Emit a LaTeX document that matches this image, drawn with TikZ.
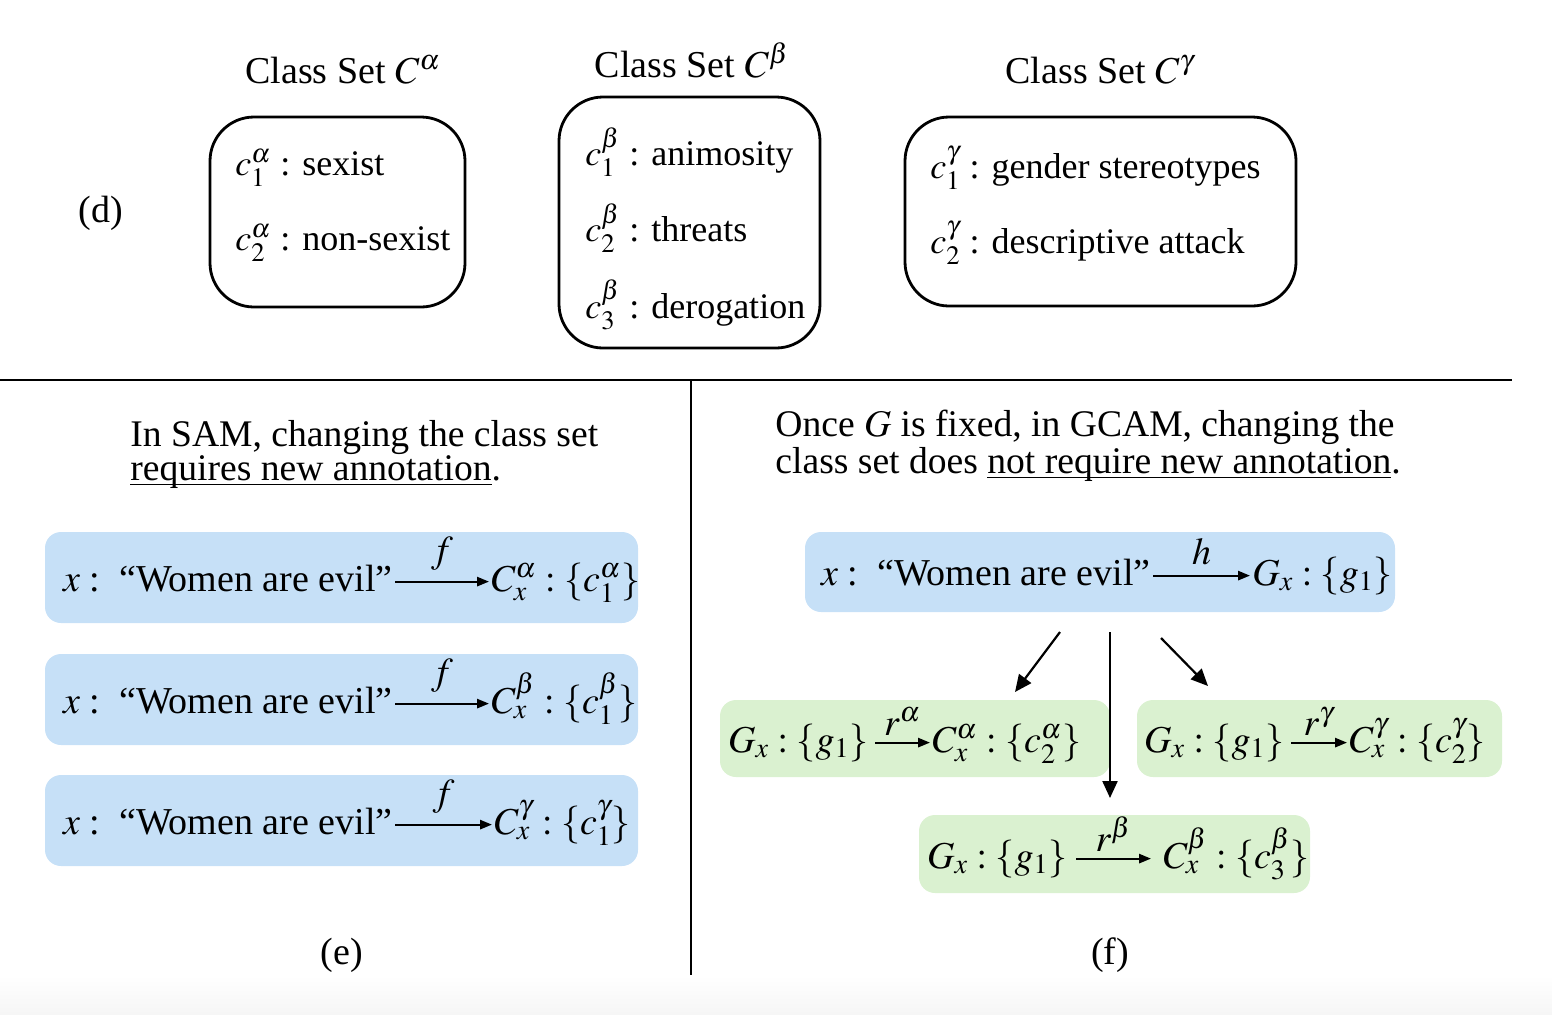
\documentclass[tikz,border=0pt]{standalone}
\usepackage{amsmath}
\usepackage{mathptmx}
\usepackage[no-math]{fontspec}
\setmainfont{Liberation Serif}
\newfontfamily\tnr[Ligatures=TeX]{Liberation Serif}
\usetikzlibrary{arrows.meta}
\definecolor{boxblue}{HTML}{C6E0F7}
\definecolor{boxgreen}{HTML}{DAF1D0}
\definecolor{bandgray}{HTML}{F6F6F6}
\newcommand\fs{\tnr\fontsize{19}{17}\selectfont}
\newcommand\fsb{\tnr\fontsize{18}{17}\selectfont}
\newcommand\fsh{\tnr\fontsize{18.8}{17}\selectfont}
\newcommand\myul[1]{\setbox0\hbox{#1}\rlap{\rule[-2.6pt]{\wd0}{0.8pt}}\box0}
\begin{document}
\begin{tikzpicture}[x=0.5pt,y=-0.5pt,
  lbl/.style={font=\fs, inner sep=0pt},
  blbl/.style={font=\fsb, inner sep=0pt, anchor=west},
  hlbl/.style={font=\fsh, inner sep=0pt, anchor=base west, align=left},
  classbox/.style={draw, line width=1.4pt, rounded corners=22pt, inner sep=0pt},
  bluebox/.style={fill=boxblue, rounded corners=8pt, inner sep=0pt},
  greenbox/.style={fill=boxgreen, rounded corners=8pt, inner sep=0pt},
  inarr/.style={line width=1.1pt, -{Triangle[length=6pt,width=4.6pt]}},
  conn/.style={line width=1.1pt, -{Triangle[length=8.5pt,width=7.5pt]}}]

\useasboundingbox (0,0) rectangle (1552,1014);
\shade[top color=white, bottom color=bandgray] (0,975) rectangle (1552,1014);

% ---- (d) class sets
\node[lbl] (d) at (101,213) {(d)};
\node[lbl] (ta) at (343,70) {Class Set $C^{\alpha}$};
\node[lbl] (tb) at (692,60) {Class Set $C^{\beta}$};
\node[lbl] (tg) at (1100,70) {Class Set $C^{\gamma}$};

\node[classbox, minimum width=127.5pt, minimum height=95pt] (boxa) at (337.5,212) {};
\node[classbox, minimum width=130.5pt, minimum height=125.5pt] (boxb) at (689.5,222.5) {};
\node[classbox, minimum width=195.5pt, minimum height=94.5pt] (boxg) at (1100.5,211.5) {};

\node[blbl] (a1) at (235,168) {$c^{\alpha}_{1}$ : sexist};
\node[blbl] (a2) at (235,243) {$c^{\alpha}_{2}$ : non-sexist};
\node[blbl] (b1) at (585,152) {$c^{\beta}_{1}$ : animosity};
\node[blbl] (b2) at (585,228) {$c^{\beta}_{2}$ : threats};
\node[blbl] (b3) at (585,305) {$c^{\beta}_{3}$ : derogation};
\node[blbl] (g1) at (930,168) {$c^{\gamma}_{1}$ : gender stereotypes};
\node[blbl] (g2) at (930,243) {$c^{\gamma}_{2}$ : descriptive attack};

% ---- separators
\draw[line width=1.2pt] (0,380) -- (1512,380);
\draw[line width=1pt] (691,380) -- (691,975);

% ---- (e) SAM
\node[hlbl] (sam) at (130,480)
  {In SAM, changing the class set\\ \myul{requires new annotation}.};

\node[bluebox, minimum width=296.5pt, minimum height=45.5pt] (e1) at (341.5,577.5) {};
\node[bluebox, minimum width=296.5pt, minimum height=45.5pt] (e2) at (341.5,699.5) {};
\node[bluebox, minimum width=296.5pt, minimum height=45.5pt] (e3) at (341.5,820.5) {};

\node[lbl, anchor=base east] (e1l) at (393,591) {$x$ :\ \ “Women are evil”};
\node[lbl, anchor=base west] (e1r) at (491,591) {$C^{\alpha}_{x}:\{c^{\alpha}_{1}\}$};
\draw[inarr] ([xshift=1pt,yshift=4.7pt]e1l.base east) -- node[lbl, above=5pt] (e1f) {$f$} ([xshift=-1pt,yshift=4.7pt]e1r.base west);

\node[lbl, anchor=base east] (e2l) at (393,713) {$x$ :\ \ “Women are evil”};
\node[lbl, anchor=base west] (e2r) at (491,713) {$C^{\beta}_{x}:\{c^{\beta}_{1}\}$};
\draw[inarr] ([xshift=1pt,yshift=4.7pt]e2l.base east) -- node[lbl, above=5pt] (e2f) {$f$} ([xshift=-1pt,yshift=4.7pt]e2r.base west);

\node[lbl, anchor=base east] (e3l) at (393,834) {$x$ :\ \ “Women are evil”};
\node[lbl, anchor=base west] (e3r) at (494,834) {$C^{\gamma}_{x}:\{c^{\gamma}_{1}\}$};
\draw[inarr] ([xshift=1pt,yshift=4.7pt]e3l.base east) -- node[lbl, above=5pt] (e3f) {$f$} ([xshift=-1pt,yshift=4.7pt]e3r.base west);

\node[lbl] (e) at (342,955) {(e)};

% ---- (f) GCAM
\node[hlbl] (gcam) at (775,473)
  {Once $G$ is fixed, in GCAM, changing the\\ class set does \myul{not require new annotation}.};

\node[bluebox, minimum width=295pt, minimum height=40pt] (hb) at (1100,572) {};
\node[lbl, anchor=base east] (hl) at (1151,585) {$x$ :\ \ “Women are evil”};
\node[lbl, anchor=base west] (hr) at (1252,585) {$G_{x}:\{g_{1}\}$};
\draw[inarr] ([xshift=1pt,yshift=4.7pt]hl.base east) -- node[lbl, above=5pt] (hh) {$h$} ([xshift=-1pt,yshift=4.7pt]hr.base west);

\node[greenbox, minimum width=195pt, minimum height=38.5pt] (ga) at (915,738.5) {};
\node[lbl, anchor=base east] (gal) at (869,752) {$G_{x}:\{g_{1}\}$};
\node[lbl, anchor=base west] (gar) at (932,752) {$C^{\alpha}_{x}:\{c^{\alpha}_{2}\}$};
\draw[inarr] ([xshift=3pt,yshift=4.7pt]gal.base east) -- node[lbl, above=3pt] (gaf) {$r^{\alpha}$} ([xshift=-1pt,yshift=4.7pt]gar.base west);

\node[greenbox, minimum width=182.5pt, minimum height=38.5pt] (gg) at (1319.5,738.5) {};
\node[lbl, anchor=base east] (ggl) at (1285,752) {$G_{x}:\{g_{1}\}$};
\node[lbl, anchor=base west] (ggr) at (1349,752) {$C^{\gamma}_{x}:\{c^{\gamma}_{2}\}$};
\draw[inarr] ([xshift=3pt,yshift=4.7pt]ggl.base east) -- node[lbl, above=3pt] (ggf) {$r^{\gamma}$} ([xshift=-1pt,yshift=4.7pt]ggr.base west);

\node[greenbox, minimum width=195.5pt, minimum height=39pt] (gb) at (1114.5,854) {};
\node[lbl, anchor=base east] (gbl) at (1068,868) {$G_{x}:\{g_{1}\}$};
\node[lbl, anchor=base west] (gbr) at (1163,868) {$C^{\beta}_{x}:\{c^{\beta}_{3}\}$};
\draw[inarr] ([xshift=4pt,yshift=4.7pt]gbl.base east) -- node[lbl, above=3pt] (gbf) {$r^{\beta}$} ([xshift=-6pt,yshift=4.7pt]gbr.base west);

\node[lbl] (f) at (1110,955) {(f)};

\coordinate (sa) at (1060,632);
\coordinate (ea) at (1015,692);
\coordinate (sb) at (1110,632);
\coordinate (eb) at (1110,798);
\coordinate (sg) at (1161,638);
\coordinate (eg) at (1208,686);
\draw[conn] (sa) -- (ea);
\draw[conn] (sb) -- (eb);
\draw[conn] (sg) -- (eg);
\end{tikzpicture}
\end{document}
